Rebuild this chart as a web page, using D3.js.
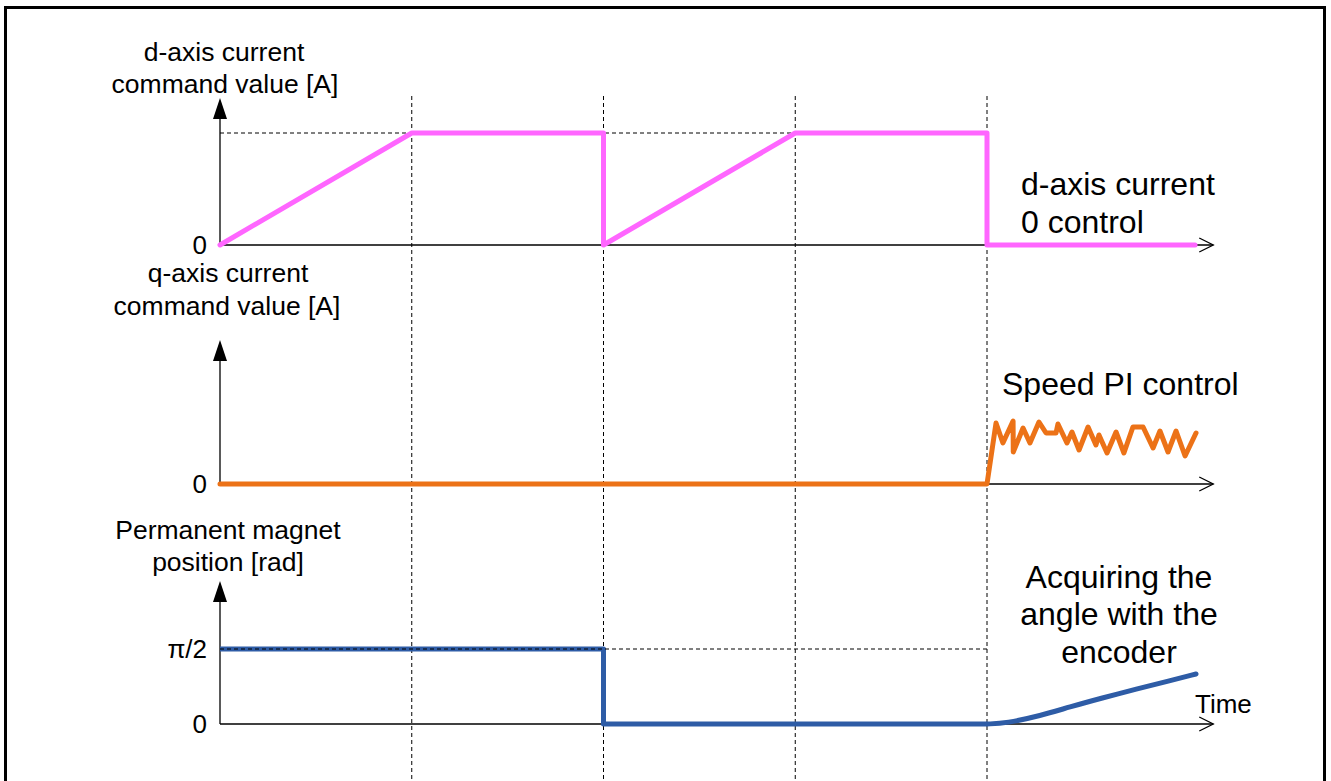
<!DOCTYPE html>
<html>
<head>
<meta charset="utf-8">
<title>d/q current command and magnet position</title>
<script src="https://cdn.jsdelivr.net/npm/d3@7"></script>
<style>
  body { margin: 0; background: #fff; }
  svg text { font-family: "Liberation Sans", Arial, sans-serif; fill: #000; }
</style>
</head>
<body>
<div id="chart"></div>
<script>
// time in units of one step (vertical dashed lines at t = 1..4)
const stepTimes = [1, 2, 3, 4];

// d-axis current command (1 = max level)
const dTime = [0, 1, 2, 2, 3, 4, 4, 5.085];
const dValue = [0, 1, 1, 0, 1, 1, 0, 0];

// q-axis current command (arbitrary units)
const qTime = [0, 4, 4.047, 4.083, 4.136, 4.137, 4.188, 4.224, 4.271, 4.308, 4.36, 4.37, 4.417, 4.443,
  4.48, 4.527, 4.568, 4.584, 4.626, 4.673, 4.714, 4.761, 4.814, 4.866, 4.902, 4.944, 4.986, 5.033, 5.09];
const qValue = [0, 0, 61, 41, 63, 32, 56, 41, 62, 51, 51, 60, 41, 52,
  34, 57, 39, 49, 31, 52, 31, 57, 57, 36, 53, 32, 53, 28, 51];

// magnet position, in multiples of pi/2
const posTime = [0, 2, 2, 4];
const posValue = [1, 1, 0, 0];
const encTime = [4, 4.1, 4.28, 4.43, 4.6, 4.78, 4.95, 5.09];
const encValue = [0, 0.01, 0.11, 0.227, 0.347, 0.467, 0.573, 0.667];

const width = 1331, height = 781;
const svg = d3.select("#chart").append("svg")
  .attr("width", width).attr("height", height);

// frame
svg.append("rect")
  .attr("x", 5.5).attr("y", 7.5).attr("width", 1319).attr("height", 800)
  .attr("fill", "none").attr("stroke", "#000").attr("stroke-width", 3);

const x = d3.scaleLinear().domain([0, 4]).range([220, 987]);
const tEnd = 5.18;

const yD = d3.scaleLinear().domain([0, 1]).range([245, 133]);
const yQ = d3.scaleLinear().domain([0, 100]).range([484, 384]);
const yP = d3.scaleLinear().domain([0, 1]).range([724, 649]);

// vertical dashed lines
svg.append("g").selectAll("line").data(stepTimes).join("line")
  .attr("x1", d => x(d)).attr("x2", d => x(d))
  .attr("y1", 96).attr("y2", 790)
  .attr("stroke", "#000").attr("stroke-width", 1).attr("stroke-dasharray", "4,3");

// horizontal dashed guide
svg.append("line")
  .attr("x1", x(0)).attr("x2", x(4)).attr("y1", yD(1)).attr("y2", yD(1))
  .attr("stroke", "#000").attr("stroke-dasharray", "4,3");

// axes
function panelAxes(y, top, ticks, labels) {
  const g = svg.append("g");
  g.append("line")
    .attr("x1", x(0)).attr("x2", x(0)).attr("y1", y(0)).attr("y2", top + 18)
    .attr("stroke", "#000").attr("stroke-width", 1.3);
  g.append("path")
    .attr("d", `M${x(0)},${top} L${x(0) - 7},${top + 21} L${x(0) + 7},${top + 21} Z`)
    .attr("fill", "#000");
  g.append("line")
    .attr("x1", x(0)).attr("x2", x(tEnd)).attr("y1", y(0)).attr("y2", y(0))
    .attr("stroke", "#000").attr("stroke-width", 1.3);
  g.append("path")
    .attr("d", `M${x(tEnd) - 14},${y(0) - 7} L${x(tEnd)},${y(0)} L${x(tEnd) - 14},${y(0) + 7}`)
    .attr("fill", "none").attr("stroke", "#000").attr("stroke-width", 1.3);
  const ax = svg.append("g")
    .attr("transform", `translate(${x(0)},0)`)
    .call(d3.axisLeft(y).tickValues(ticks).tickFormat((d, i) => labels[i]).tickSize(0).tickPadding(13));
  ax.select(".domain").remove();
  ax.selectAll("text").style("font-size", "26px").attr("font-family", null);
}

panelAxes(yD, 98, [0], ["0"]);
panelAxes(yQ, 340, [0], ["0"]);
panelAxes(yP, 581, [0, 1], ["0", "π/2"]);

const line = d3.line();

// d-axis current
svg.append("path")
  .attr("d", line(dTime.map((t, i) => [x(t), yD(dValue[i])])))
  .attr("fill", "none").attr("stroke", "#FF66FF").attr("stroke-width", 5)
  .attr("stroke-linejoin", "round").attr("stroke-linecap", "round");

// q-axis current
svg.append("path")
  .attr("d", line(qTime.map((t, i) => [x(t), yQ(qValue[i])])))
  .attr("fill", "none").attr("stroke", "#EC7217").attr("stroke-width", 5)
  .attr("stroke-linejoin", "round").attr("stroke-linecap", "round");

// position
svg.append("path")
  .attr("d", line(posTime.map((t, i) => [x(t), yP(posValue[i])])))
  .attr("fill", "none").attr("stroke", "#2E5CA6").attr("stroke-width", 5)
  .attr("stroke-linejoin", "round");
svg.append("path")
  .attr("d", d3.line().curve(d3.curveBasis)(encTime.map((t, i) => [x(t), yP(encValue[i])])))
  .attr("fill", "none").attr("stroke", "#2E5CA6").attr("stroke-width", 5)
  .attr("stroke-linecap", "round");

svg.append("line")
  .attr("x1", x(0)).attr("x2", x(4)).attr("y1", yP(1)).attr("y2", yP(1))
  .attr("stroke", "#000").attr("stroke-dasharray", "4,3");

// axis titles (left) and annotations (right)
const titles = [
  {t: "d-axis current", x: 224, y: 61},
  {t: "command value [A]", x: 225, y: 93},
  {t: "q-axis current", x: 228, y: 282},
  {t: "command value [A]", x: 227, y: 315},
  {t: "Permanent magnet", x: 228, y: 539},
  {t: "position [rad]", x: 228, y: 571}
];
svg.append("g").selectAll("text").data(titles).join("text")
  .attr("x", d => d.x).attr("y", d => d.y).attr("text-anchor", "middle")
  .style("font-size", "26.5px").text(d => d.t);

const notes = [
  {t: "d-axis current", x: 1021, y: 195, a: "start"},
  {t: "0 control", x: 1021, y: 233, a: "start"},
  {t: "Speed PI control", x: 1002, y: 395, a: "start"},
  {t: "Acquiring the", x: 1119, y: 588, a: "middle"},
  {t: "angle with the", x: 1119, y: 625, a: "middle"},
  {t: "encoder", x: 1119, y: 663, a: "middle"}
];
svg.append("g").selectAll("text").data(notes).join("text")
  .attr("x", d => d.x).attr("y", d => d.y).attr("text-anchor", d => d.a)
  .style("font-size", "32px").text(d => d.t);

svg.append("text").attr("x", 1195).attr("y", 713)
  .style("font-size", "26px").text("Time");
</script>
</body>
</html>
